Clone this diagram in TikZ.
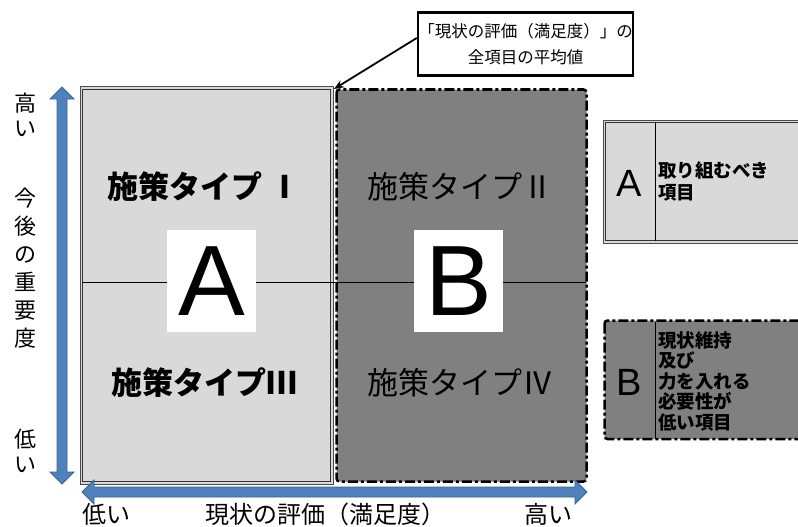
\documentclass[tikz,border=0pt]{standalone}
\usepackage{fontspec}
\setmainfont{Noto Sans CJK JP}
\newfontfamily\latinfont{Liberation Sans}
\usetikzlibrary{arrows.meta}
\definecolor{lgray}{HTML}{D9D9D9}
\definecolor{dgray}{HTML}{808080}
\definecolor{axisblue}{HTML}{4F81BD}
\definecolor{axisedge}{HTML}{3A6595}
\tikzset{
  boxA/.style={fill=lgray, draw=gray!60!black, line width=1pt},
  boxAin/.style={draw=gray!40!black, line width=0.8pt},
  boxB/.style={fill=dgray, draw=black, line width=2.5pt, rounded corners=3pt, dash pattern=on 10pt off 3pt on 3pt off 3pt},
  typelbl/.style={font=\fontsize{31}{34}\selectfont, inner sep=0pt},
  typelblb/.style={font=\bfseries\fontsize{31}{34}\selectfont, inner sep=0pt},
  bigletter/.style={fill=white, minimum width=89pt, minimum height=102pt, inner sep=0pt, font=\latinfont\fontsize{100}{100}\selectfont},
  axislbl/.style={font=\fontsize{22}{25}\selectfont, inner sep=0pt, align=center},
  axislblh/.style={font=\fontsize{24}{25}\selectfont, inner sep=0pt},
  axisarrow/.style={fill=axisblue, draw=axisedge, line width=0.8pt},
  legletter/.style={font=\latinfont\fontsize{38}{38}\selectfont, inner sep=0pt},
  legtext/.style={font=\bfseries\fontsize{18.5}{22}\selectfont, inner sep=0pt, align=left, anchor=west},
  callout/.style={draw=black, line width=2.5pt, fill=white, minimum width=215pt, minimum height=63pt, inner sep=0pt, align=center, font=\fontsize{16.5}{26}\selectfont}
}
\begin{document}
\begin{tikzpicture}[x=1pt,y=-1pt]
\useasboundingbox (0,0) rectangle (798,527);
% quadrant boxes
\draw[boxA] (80,87) rectangle (333,484);
\draw[boxAin] (82.5,89.5) rectangle (330.5,481.5);
\draw[boxB] (336.5,89.5) rectangle (586.5,481.5);
\coordinate (midL) at (82,282);
\coordinate (midR) at (586,282);
\draw[line width=0.6pt] (midL) -- (midR);
% type labels
\node[typelblb] (t1) at (204,187) {施策タイプ Ⅰ};
\node[typelbl] (t2) at (460,187) {施策タイプⅡ};
\node[typelblb] (t3) at (204,383) {施策タイプⅢ};
\node[typelbl] (t4) at (460,383) {施策タイプⅣ};
% big letters
\node[bigletter] (bA) at (211.5,281) {A};
\node[bigletter] (bB) at (458.5,281) {B};
% callout
\node[callout] (co) at (525.5,44) {「現状の評価（満足度）」の\\全項目の平均値};
\coordinate (cornerA) at (334,89);
\draw[line width=1.8pt, -{Stealth[length=10pt,width=8pt]}] (co.west |- 0,38) -- (cornerA);
% vertical axis arrow
\filldraw[axisarrow] (62,87) -- (74,99) -- (67,99) -- (67,472) -- (74,472) -- (62,484) -- (50,472) -- (57,472) -- (57,99) -- (50,99) -- cycle;
% horizontal axis arrow
\filldraw[axisarrow] (82,492) -- (94,480) -- (94,487) -- (575,487) -- (575,480) -- (587,492) -- (575,504) -- (575,497) -- (94,497) -- (94,504) -- cycle;
% axis labels
\node[axislbl] (hiV) at (25,115) {高\\い};
\node[axislbl, font=\fontsize{22}{28}\selectfont] (imp) at (25,268) {今\\後\\の\\重\\要\\度};
\node[axislbl] (loV) at (25,451) {低\\い};
\node[axislblh] (loH) at (106,514) {低い};
\node[axislblh] (ev) at (325,514) {現状の評価（満足度）};
\node[axislblh] (hiH) at (548,514) {高い};
% legend A
\draw[boxA] (603,120) rectangle (810,243);
\draw[boxAin] (605.5,122.5) rectangle (810,240.5);
\coordinate (dAt) at (655,122);
\coordinate (dAb) at (655,241);
\draw[line width=0.8pt] (dAt) -- (dAb);
\node[legletter] (lA) at (629,183) {A};
\node[legtext] (lAt) at (658,181) {取り組むべき\\項目};
% legend B
\draw[boxB] (604.5,320.5) rectangle (815,439);
\coordinate (dBt) at (655,322);
\coordinate (dBb) at (655,438);
\draw[line width=0.8pt] (dBt) -- (dBb);
\node[legletter] (lB) at (629,382) {B};
\node[legtext, font=\bfseries\fontsize{18.5}{20.5}\selectfont] (lBt) at (658,381) {現状維持\\及び\\力を入れる\\必要性が\\低い項目};
\end{tikzpicture}
\end{document}
